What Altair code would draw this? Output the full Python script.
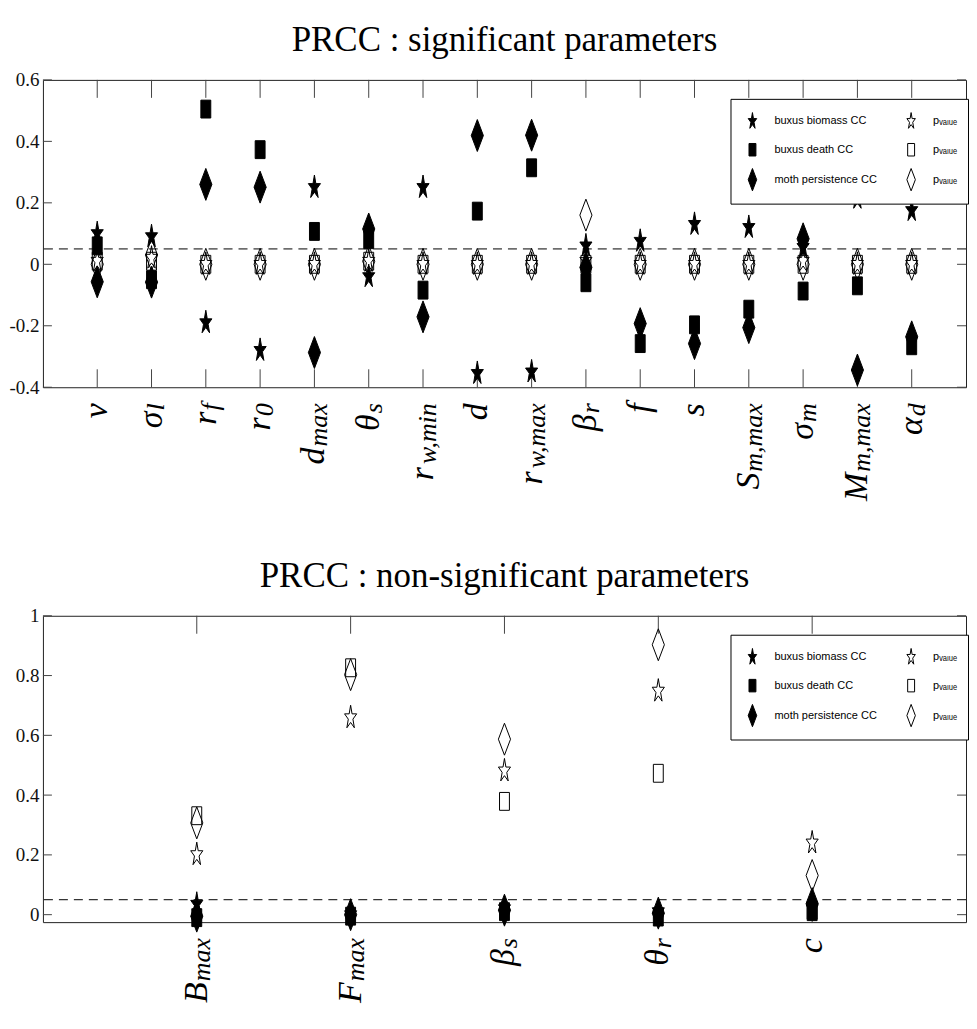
import math
import altair as alt
import pandas as pd

# ---------------- data ----------------
SIG_KEYS = ["v", "sigma_l", "r_f", "r_0", "d_max", "theta_s", "r_wmin", "d",
            "r_wmax", "beta_r", "f", "s", "S_mmax", "sigma_m", "M_mmax", "alpha_d"]
SIG_MAIN = ["v", "σ", "r", "r", "d", "θ", "r", "d", "r", "β", "f", "s", "S", "σ", "M", "α"]
SIG_SUB = ["", "l", "f", "0", "max", "s", "w,min", "", "w,max", "r", "", "", "m,max", "m", "m,max", "d"]

SIG_CC_BIOMASS = [0.10, 0.09, -0.19, -0.28, 0.25, -0.04, 0.25, -0.355, -0.35, 0.06, 0.075, 0.13, 0.12, 0.055, 0.215, 0.175]
SIG_CC_DEATH = [0.06, -0.05, 0.505, 0.373, 0.107, 0.08, -0.084, 0.173, 0.314, -0.06, -0.258, -0.197, -0.146, -0.087, -0.07, -0.265]
SIG_CC_MOTH = [-0.057, -0.058, 0.26, 0.251, -0.287, 0.115, -0.171, 0.419, 0.42, -0.01, -0.193, -0.258, -0.206, 0.083, -0.344, -0.236]
SIG_P_BIOMASS = [0.01, 0.02, 0.0, 0.0, 0.0, 0.01, 0.0, 0.0, 0.0, 0.01, 0.0, 0.0, 0.0, 0.01, 0.0, 0.0]
SIG_P_DEATH = [0.01, 0.01, 0.0, 0.0, 0.0, 0.01, 0.0, 0.0, 0.0, 0.0, 0.0, 0.0, 0.0, 0.0, 0.0, 0.0]
SIG_P_MOTH = [0.0, 0.03, 0.0, 0.0, 0.0, 0.01, 0.0, 0.0, 0.0, 0.16, 0.0, 0.0, 0.0, 0.0, 0.0, 0.0]

NS_KEYS = ["B_max", "F_max", "beta_s", "theta_r", "c"]
NS_MAIN = ["B", "F", "β", "θ", "c"]
NS_SUB = ["max", "max", "s", "r", ""]

NS_CC_BIOMASS = [0.035, 0.0, 0.02, 0.01, 0.02]
NS_CC_DEATH = [-0.01, -0.005, 0.01, -0.008, 0.01]
NS_CC_MOTH = [-0.005, 0.0, 0.015, 0.005, 0.037]
NS_P_BIOMASS = [0.201, 0.659, 0.481, 0.748, 0.24]
NS_P_DEATH = [0.331, 0.826, 0.379, 0.473, 0.015]
NS_P_MOTH = [0.307, 0.803, 0.587, 0.903, 0.131]

SIG_Y_TICKS = [-0.4, -0.2, 0, 0.2, 0.4, 0.6]
NS_Y_TICKS = [0, 0.2, 0.4, 0.6, 0.8, 1]
SIG_Y_DOMAIN = [-0.4, 0.6]
NS_Y_DOMAIN = [-0.025, 1.0]
THRESHOLD = [0.05]

SERIES = ["buxus biomass CC", "buxus death CC", "moth persistence CC",
          "p_value star", "p_value square", "p_value diamond"]

# ---------------- styles ----------------
W = 925
H1 = 308
H2 = 307
MAIN_SIZE = 34
SUB_SIZE = 26
LABEL_PAD = 16


def star_path(sx, sy, inner=0.382):
    pts = []
    for k in range(10):
        ang = math.radians(-90 + 36 * k)
        r = 1.0 if k % 2 == 0 else inner
        pts.append((r * math.cos(ang) * sx, r * math.sin(ang) * sy))
    return "M" + "L".join(f"{x:.3f},{y:.3f}" for x, y in pts) + "Z"


STAR = star_path(0.40, 0.78)
RECT = "M-0.31,-0.56L0.31,-0.56L0.31,0.56L-0.31,0.56Z"
DIAMOND = "M0,-1L0.38,0L0,1L-0.38,0Z"
SHAPE_RANGE = [STAR, RECT, DIAMOND, STAR, RECT, DIAMOND]
FILL_RANGE = ["black", "black", "black", "transparent", "transparent", "transparent"]
STROKE_RANGE = ["black"] * 6

# Times/Liberation Serif italic advance widths (em)
ITALIC_W = {"m": .722, "a": .5, "x": .444, "i": .278, "n": .5, "w": .667, ",": .25,
            "s": .389, "d": .5, "r": .389, "l": .278, "f": .278, "0": .5}


def sub_width(s):
    return sum(ITALIC_W.get(c, .5) for c in s) * SUB_SIZE + (1 if s else 0)


def panel(keys, mains, subs, series_vals, y_domain, y_ticks, height, title):
    rows = []
    for name, vals in zip(SERIES, series_vals):
        for k, v in zip(keys, vals):
            rows.append({"param": k, "series": name, "value": v})
    df = pd.DataFrame(rows)
    lab = pd.DataFrame({"param": keys, "main": mains, "sub": subs})
    ticks = pd.DataFrame({"tick": y_ticks})
    thr = pd.DataFrame({"thr": THRESHOLD})

    xs = alt.Scale(type="point", domain=keys, padding=1)
    ys = alt.Scale(domain=y_domain, nice=False, zero=False)
    X = alt.X("param:N", scale=xs, axis=None)

    yaxis = alt.Axis(values=y_ticks, ticks=False, tickSize=0, domain=False, grid=False,
                     title=None, labelFont="Liberation Serif", labelFontSize=19,
                     labelPadding=4, labelColor="#111",
                     labelExpr="(datum.value < 0 ? '-' : '') + format(abs(datum.value), '.1~f')")

    legend = alt.Legend(
        title=None, orient="none", legendX=W - 236, legendY=19, columns=2,
        fillColor="white", strokeColor="black", padding=10, rowPadding=7,
        columnPadding=22, labelFont="Liberation Sans", labelFontSize=11,
        labelColor="black", labelOffset=10, symbolSize=500,
        symbolStrokeWidth=1,
        labelExpr="indexof(datum.label, 'p_value') == 0 ? 'pᵥₐₗᵤₑ' : datum.label",
    )

    line = alt.Chart(thr).mark_rule(strokeDash=[9, 6], color="black", strokeWidth=1).encode(
        y=alt.Y("thr:Q", scale=ys, axis=yaxis))

    tick_style = dict(color="#444", strokeWidth=1)
    xt_top = alt.Chart(lab).mark_rule(**tick_style).encode(x=X, y=alt.value(0), y2=alt.value(18))
    xt_bot = alt.Chart(lab).mark_rule(**tick_style).encode(x=X, y=alt.value(height - 18), y2=alt.value(height))
    yt_left = alt.Chart(ticks).mark_rule(**tick_style).encode(
        y=alt.Y("tick:Q", scale=ys, axis=yaxis), x=alt.value(0), x2=alt.value(9))
    yt_right = alt.Chart(ticks).mark_rule(**tick_style).encode(
        y=alt.Y("tick:Q", scale=ys, axis=yaxis), x=alt.value(W - 9), x2=alt.value(W))

    pts = alt.Chart(df).mark_point(filled=True, size=1024, strokeWidth=1, opacity=1).encode(
        x=X,
        y=alt.Y("value:Q", scale=ys, axis=yaxis),
        shape=alt.Shape("series:N", scale=alt.Scale(domain=SERIES, range=SHAPE_RANGE), legend=legend),
        fill=alt.Fill("series:N", scale=alt.Scale(domain=SERIES, range=FILL_RANGE), legend=legend),
        stroke=alt.Stroke("series:N", scale=alt.Scale(domain=SERIES, range=STROKE_RANGE), legend=legend),
    )

    txt = dict(baseline="middle", align="right", angle=270, font="Liberation Serif",
               fontStyle="italic", color="black")
    sub_layer = alt.Chart(lab).transform_filter("isValid(datum.sub) && datum.sub != ''").mark_text(
        fontSize=SUB_SIZE, dy=5, **txt).encode(x=X, y=alt.value(height + LABEL_PAD), text="sub:N")
    main_layers = []
    for s in sorted(set(subs)):
        cond = "!isValid(datum.sub) || datum.sub == ''" if s == "" else f"datum.sub == '{s}'"
        main_layers.append(
            alt.Chart(lab).transform_filter(cond).mark_text(
                fontSize=MAIN_SIZE, dx=-sub_width(s), **txt).encode(
                x=X, y=alt.value(height + LABEL_PAD), text="main:N"))

    return alt.layer(line, xt_top, xt_bot, yt_left, yt_right, pts, sub_layer, *main_layers).properties(
        width=W, height=height,
        title=alt.TitleParams(text=title, font="Liberation Serif", fontSize=35, fontWeight="normal",
                              color="black", anchor="middle", baseline="alphabetic", offset=-15),
    )


top = panel(SIG_KEYS, SIG_MAIN, SIG_SUB,
            [SIG_CC_BIOMASS, SIG_CC_DEATH, SIG_CC_MOTH, SIG_P_BIOMASS, SIG_P_DEATH, SIG_P_MOTH],
            SIG_Y_DOMAIN, SIG_Y_TICKS, H1, "PRCC : significant parameters")
bottom = panel(NS_KEYS, NS_MAIN, NS_SUB,
               [NS_CC_BIOMASS, NS_CC_DEATH, NS_CC_MOTH, NS_P_BIOMASS, NS_P_DEATH, NS_P_MOTH],
               NS_Y_DOMAIN, NS_Y_TICKS, H2, "PRCC : non-significant parameters")

chart = alt.vconcat(top, bottom, spacing=229, bounds="flush").resolve_scale(
    shape="independent", fill="independent", stroke="independent"
).resolve_legend(shape="independent", fill="independent", stroke="independent").properties(
    padding={"left": 0, "top": 13, "right": 0, "bottom": 0}
).configure_view(stroke="#222", strokeWidth=1)

chart.save("out.html", embed_options={"renderer": "svg", "actions": False})
